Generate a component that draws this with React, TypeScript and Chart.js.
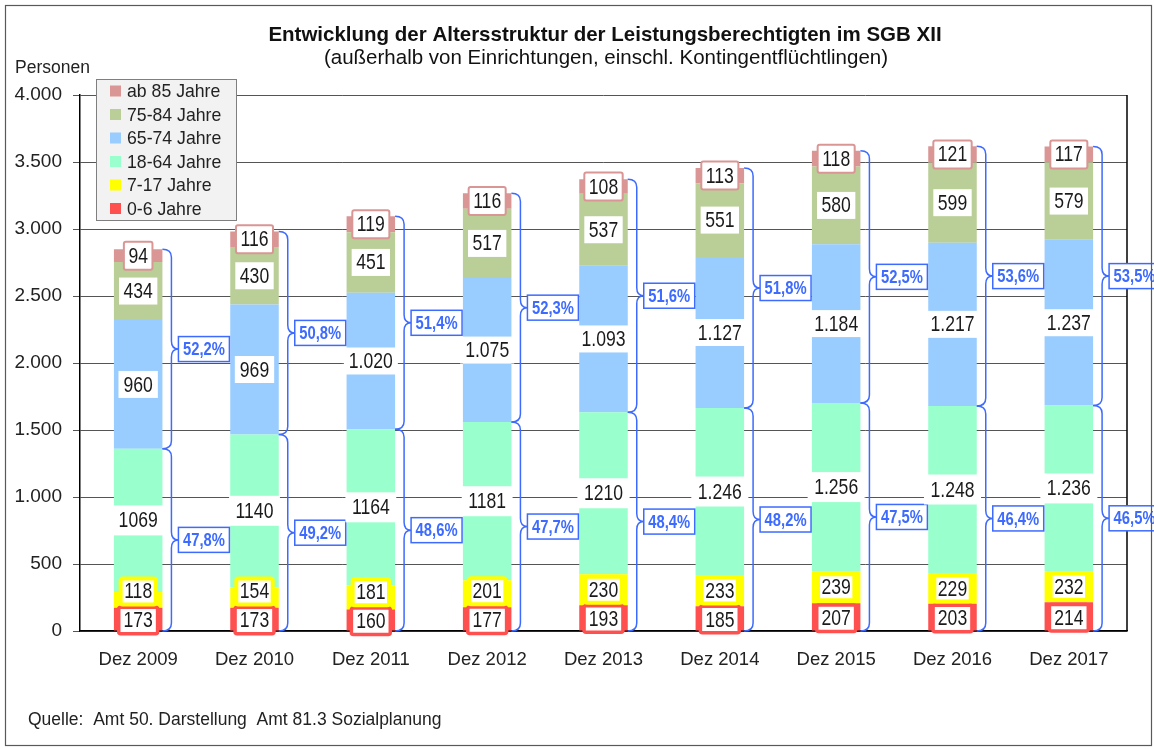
import React, { useEffect, useRef } from "react";
import { Chart, registerables } from "chart.js";

Chart.register(...registerables);

const categories = ["Dez 2009", "Dez 2010", "Dez 2011", "Dez 2012", "Dez 2013", "Dez 2014", "Dez 2015", "Dez 2016", "Dez 2017"];
const age0to6 = [173, 173, 160, 177, 193, 185, 207, 203, 214];
const age7to17 = [118, 154, 181, 201, 230, 233, 239, 229, 232];
const age18to64 = [1069, 1140, 1164, 1181, 1210, 1246, 1256, 1248, 1236];
const age65to74 = [960, 969, 1020, 1075, 1093, 1127, 1184, 1217, 1237];
const age75to84 = [434, 430, 451, 517, 537, 551, 580, 599, 579];
const age85plus = [94, 116, 119, 116, 108, 113, 118, 121, 117];
const shareUnder65 = ["47,8%", "49,2%", "48,6%", "47,7%", "48,4%", "48,2%", "47,5%", "46,4%", "46,5%"];
const share65plus = ["52,2%", "50,8%", "51,4%", "52,3%", "51,6%", "51,8%", "52,5%", "53,6%", "53,5%"];
const yMin = 0;
const yMax = 4000;
const yStep = 500;

const TITLE = "Entwicklung der Altersstruktur der Leistungsberechtigten im SGB XII";
const SUBTITLE = "(außerhalb von Einrichtungen, einschl. Kontingentflüchtlingen)";
const Y_LABEL = "Personen";
const FOOTER = "Quelle:  Amt 50. Darstellung  Amt 81.3 Sozialplanung";

const FONT = "'Liberation Sans', Arial, Helvetica, sans-serif";
const BLUE = "#3d6bff";

type BoxStyle = { stroke: string | null; lw: number; padX: number; h: number };
const seriesDefs: { label: string; data: number[]; color: string; box: BoxStyle; sepFrom: number }[] = [
  { label: "0-6 Jahre", data: age0to6, color: "#ff5050", box: { stroke: "#ff5050", lw: 3.5, padX: 13, h: 30 }, sepFrom: 99 },
  { label: "7-17 Jahre", data: age7to17, color: "#ffff00", box: { stroke: "#ffff00", lw: 4, padX: 11, h: 30 }, sepFrom: 99 },
  { label: "18-64 Jahre", data: age18to64, color: "#99ffcc", box: { stroke: null, lw: 0, padX: 13, h: 30 }, sepFrom: 5 },
  { label: "65-74 Jahre", data: age65to74, color: "#99ccff", box: { stroke: null, lw: 0, padX: 10, h: 27 }, sepFrom: 0 },
  { label: "75-84 Jahre", data: age75to84, color: "#bace98", box: { stroke: null, lw: 0, padX: 9, h: 27 }, sepFrom: 0 },
  { label: "ab 85 Jahre", data: age85plus, color: "#d99694", box: { stroke: "#d99694", lw: 2, padX: 11, h: 30 }, sepFrom: 0 },
];

function fmtNum(v: number, sep: boolean): string {
  const s = String(Math.round(v));
  return sep ? s.replace(/\B(?=(\d{3})+(?!\d))/g, ".") : s;
}

function drawText(
  ctx: CanvasRenderingContext2D,
  text: string,
  x: number,
  y: number,
  font: string,
  color: string,
  sx: number,
  align: CanvasTextAlign = "center",
  baseline: CanvasTextBaseline = "middle"
) {
  ctx.save();
  ctx.font = font;
  ctx.fillStyle = color;
  ctx.textAlign = align;
  ctx.textBaseline = baseline;
  ctx.translate(x, y);
  ctx.scale(sx, 1);
  ctx.fillText(text, 0, 0);
  ctx.restore();
}

function textWidth(ctx: CanvasRenderingContext2D, text: string, font: string, sx: number) {
  ctx.save();
  ctx.font = font;
  const w = ctx.measureText(text).width * sx;
  ctx.restore();
  return w;
}

function roundRect(ctx: CanvasRenderingContext2D, x: number, y: number, w: number, h: number, r: number) {
  ctx.beginPath();
  ctx.moveTo(x + r, y);
  ctx.lineTo(x + w - r, y);
  ctx.quadraticCurveTo(x + w, y, x + w, y + r);
  ctx.lineTo(x + w, y + h - r);
  ctx.quadraticCurveTo(x + w, y + h, x + w - r, y + h);
  ctx.lineTo(x + r, y + h);
  ctx.quadraticCurveTo(x, y + h, x, y + h - r);
  ctx.lineTo(x, y + r);
  ctx.quadraticCurveTo(x, y, x + r, y);
  ctx.closePath();
}

function labelBox(ctx: CanvasRenderingContext2D, cx: number, cy: number, w: number, h: number, stroke: string | null, lw: number) {
  ctx.save();
  if (stroke) {
    roundRect(ctx, cx - w / 2 + lw / 2, cy - h / 2 + lw / 2, w - lw, h - lw, 2);
    ctx.fillStyle = "#ffffff";
    ctx.fill();
    ctx.strokeStyle = stroke;
    ctx.lineWidth = lw;
    ctx.stroke();
  } else {
    ctx.fillStyle = "#ffffff";
    ctx.fillRect(cx - w / 2, cy - h / 2, w, h);
  }
  ctx.restore();
}

function brace(ctx: CanvasRenderingContext2D, xr: number, yTop: number, yBot: number) {
  const xv = xr + 9;
  const xt = xr + 16;
  const r = 8;
  const ym = (yTop + yBot) / 2;
  ctx.beginPath();
  ctx.moveTo(xr, yTop);
  ctx.quadraticCurveTo(xv, yTop, xv, yTop + r);
  ctx.lineTo(xv, ym - r);
  ctx.quadraticCurveTo(xv, ym, xt, ym);
  ctx.quadraticCurveTo(xv, ym, xv, ym + r);
  ctx.lineTo(xv, yBot - r);
  ctx.quadraticCurveTo(xv, yBot, xr, yBot);
  ctx.stroke();
  return { xt, ym };
}

const overlayPlugin = {
  id: "overlay",
  afterDatasetsDraw(chart: any) {
    const ctx: CanvasRenderingContext2D = chart.ctx;
    const ys = chart.scales.y;
    const area = chart.chartArea;

    // plot right border
    ctx.save();
    ctx.strokeStyle = "#000";
    ctx.lineWidth = 1.5;
    ctx.beginPath();
    ctx.moveTo(area.right, area.top);
    ctx.lineTo(area.right, area.bottom);
    ctx.stroke();
    ctx.restore();

    const valFont = `22px ${FONT}`;
    const valSx = 0.8;
    const pctFont = `bold 18.5px ${FONT}`;
    const pctSx = 0.8;
    const meta = chart.getDatasetMeta(0);

    for (let i = 0; i < categories.length; i++) {
      const bar: any = meta.data[i];
      const xc = bar.x;
      const xr = bar.x + bar.width / 2;
      let cum = 0;
      const centers: number[] = [];
      const cums: number[] = [0];
      seriesDefs.forEach((s) => {
        const yb = ys.getPixelForValue(cum);
        cum += s.data[i];
        const yt = ys.getPixelForValue(cum);
        centers.push((yb + yt) / 2);
        cums.push(cum);
      });
      // keep bottom boxes readable: stack 7-17 label above the 0-6 label
      const redH = seriesDefs[0].box.h;
      const yelH = seriesDefs[1].box.h;
      centers[0] = centers[0] + 1;
      centers[1] = Math.min(centers[1], centers[0] - redH / 2 - yelH / 2 + 1);

      // value labels
      seriesDefs.forEach((s, si) => {
        const txt = fmtNum(s.data[i], i >= s.sepFrom);
        const tw = textWidth(ctx, txt, valFont, valSx);
        const w = tw + s.box.padX;
        labelBox(ctx, xc, centers[si], w, s.box.h, s.box.stroke, s.box.lw);
        drawText(ctx, txt, xc, centers[si] + 1, valFont, "#1a1a1a", valSx);
      });

      // braces
      const total = cums[cums.length - 1];
      const under65 = cums[3];
      ctx.save();
      ctx.strokeStyle = BLUE;
      ctx.lineWidth = 1.5;
      const up = brace(ctx, xr, ys.getPixelForValue(total), ys.getPixelForValue(under65));
      const lo = brace(ctx, xr, ys.getPixelForValue(under65), ys.getPixelForValue(0));
      ctx.restore();

      [
        { p: up, t: share65plus[i] },
        { p: lo, t: shareUnder65[i] },
      ].forEach(({ p, t }) => {
        const tw = textWidth(ctx, t, pctFont, pctSx);
        const w = tw + 9;
        const h = 25;
        ctx.save();
        ctx.fillStyle = "#fff";
        ctx.fillRect(p.xt, p.ym - h / 2, w, h);
        ctx.strokeStyle = BLUE;
        ctx.lineWidth = 1.5;
        ctx.strokeRect(p.xt, p.ym - h / 2, w, h);
        ctx.restore();
        drawText(ctx, t, p.xt + w / 2, p.ym + 1, pctFont, BLUE, pctSx);
      });
    }
  },
  afterDraw(chart: any) {
    const ctx: CanvasRenderingContext2D = chart.ctx;

    // outer frame
    ctx.save();
    ctx.strokeStyle = "#595959";
    ctx.lineWidth = 1.2;
    ctx.strokeRect(5.5, 5.5, 1146, 740);
    ctx.restore();

    // titles
    drawText(ctx, TITLE, 605, 41, `bold 20.5px ${FONT}`, "#111", 1, "center", "alphabetic");
    drawText(ctx, SUBTITLE, 606, 64, `20.5px ${FONT}`, "#111", 1, "center", "alphabetic");

    // y axis caption
    drawText(ctx, Y_LABEL, 15, 73, `17.5px ${FONT}`, "#222", 1, "left", "alphabetic");

    // legend
    const lx = 96, ly = 79, lw = 140, lh = 141;
    ctx.save();
    ctx.fillStyle = "#f2f2f2";
    ctx.fillRect(lx, ly, lw, lh);
    ctx.strokeStyle = "#7f7f7f";
    ctx.lineWidth = 1;
    ctx.strokeRect(lx + 0.5, ly + 0.5, lw, lh);
    ctx.restore();
    const items = [...seriesDefs].reverse();
    items.forEach((s, k) => {
      const cy = ly + 12 + k * 23.5;
      ctx.save();
      ctx.fillStyle = s.color;
      ctx.fillRect(lx + 14, cy - 5.5, 11, 11);
      ctx.restore();
      drawText(ctx, s.label, lx + 31, cy + 1, `19px ${FONT}`, "#222", 0.93, "left", "middle");
    });

    // footer
    drawText(ctx, FOOTER, 28, 725, `17.5px ${FONT}`, "#222", 1, "left", "alphabetic");
  },
};

export default function App() {
  const canvasRef = useRef<HTMLCanvasElement | null>(null);

  useEffect(() => {
    document.body.style.margin = "0";
    const canvas = canvasRef.current;
    if (!canvas) return;
    const chart = new Chart(canvas, {
      type: "bar",
      data: {
        labels: categories,
        datasets: seriesDefs.map((s) => ({
          label: s.label,
          data: s.data,
          backgroundColor: s.color,
          borderWidth: 0,
          categoryPercentage: 1,
          barPercentage: 0.417,
        })),
      },
      options: {
        animation: false,
        responsive: false,
        maintainAspectRatio: false,
        devicePixelRatio: 1,
        layout: { padding: { left: 0, right: 27, top: 95, bottom: 0 } },
        plugins: {
          legend: { display: false },
          tooltip: { enabled: false },
          title: { display: false },
        },
        scales: {
          x: {
            stacked: true,
            grid: { display: false, drawTicks: false },
            border: { display: true, color: "#000", width: 1.5 },
            ticks: { font: { family: FONT, size: 18.5 }, color: "#222", padding: 18, maxRotation: 0, autoSkip: false },
            afterFit: (s: any) => {
              s.height = 118;
            },
          },
          y: {
            stacked: true,
            min: yMin,
            max: yMax,
            ticks: {
              stepSize: yStep,
              font: { family: FONT, size: 19 },
              color: "#222",
              padding: 11,
              callback: (v: any) => fmtNum(Number(v), true),
            },
            grid: { color: "#555", tickColor: "#555", tickLength: 7, lineWidth: 1 },
            border: { display: true, color: "#000", width: 1.5 },
            afterFit: (s: any) => {
              s.width = 80;
            },
          },
        },
      },
      plugins: [overlayPlugin],
    } as any);
    return () => chart.destroy();
  }, []);

  return (
    <div style={{ width: 1154, height: 749 }}>
      <canvas ref={canvasRef} width={1154} height={749} style={{ display: "block", width: 1154, height: 749 }} />
    </div>
  );
}
